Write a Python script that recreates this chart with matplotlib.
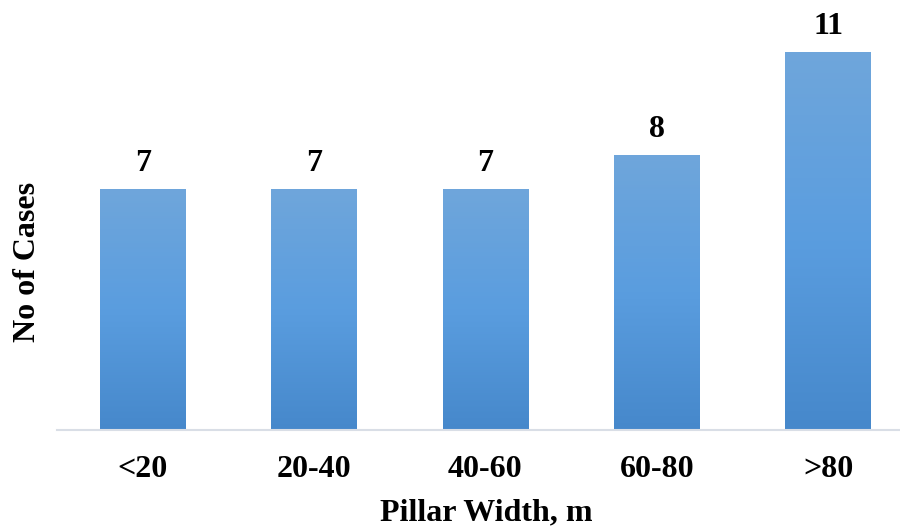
import matplotlib
matplotlib.use("Agg")
import matplotlib.pyplot as plt
import numpy as np
from matplotlib.colors import LinearSegmentedColormap

categories = ["<20", "20-40", "40-60", "60-80", ">80"]
cases = [7, 7, 7, 8, 11]

plt.rcParams['font.family'] = ['Liberation Serif', 'DejaVu Serif']

fig = plt.figure(figsize=(9, 5.29), dpi=100)
ax = fig.add_axes([57 / 900, 99 / 529, 843 / 900, 430 / 529])

x = np.arange(len(categories))
bars = ax.bar(x, cases, width=0.5, color="none", edgecolor="none", zorder=2)

# vertical gradient fill clipped to each bar
grad = LinearSegmentedColormap.from_list("blue_grad", ["#4688cb", "#5a9ddf", "#6fa6db"])
ramp = np.linspace(0, 1, 256).reshape(-1, 1)
for b in bars:
    x0, y0 = b.get_x(), b.get_y()
    w, h = b.get_width(), b.get_height()
    im = ax.imshow(ramp, cmap=grad, aspect="auto", origin="lower",
                   extent=[x0, x0 + w, y0, y0 + h], zorder=1)
    im.set_clip_path(b)
    ax.text(x0 + w / 2, h + 0.32, str(int(h)), ha="center", va="bottom",
            fontsize=23, fontweight="bold")

ax.set_xlim(-0.5, 4.42)
ax.set_ylim(0, 12.5)

for s in ["top", "right", "left"]:
    ax.spines[s].set_visible(False)
ax.spines["bottom"].set_color("#d9dee6")
ax.spines["bottom"].set_linewidth(1.5)
ax.set_yticks([])
ax.set_xticks(x)
ax.set_xticklabels(categories, fontsize=23, fontweight="bold")
ax.tick_params(axis="x", length=0, pad=18)

ax.set_xlabel("Pillar Width, m", fontsize=23, fontweight="bold", va="center")
ax.xaxis.set_label_coords(0.509, -0.193)
ax.set_ylabel("No of Cases", fontsize=23, fontweight="bold", va="center")
ax.yaxis.set_label_coords(-0.035, 0.39)

fig.savefig("out.png", dpi=100)
